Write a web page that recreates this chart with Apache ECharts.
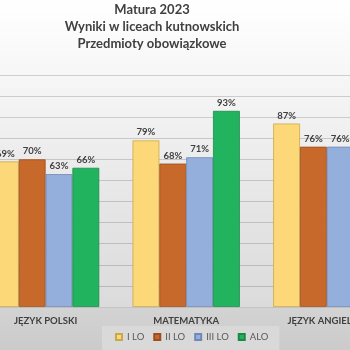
<!DOCTYPE html>
<html>
<head>
<meta charset="utf-8">
<script src="https://cdn.jsdelivr.net/npm/echarts@6/dist/echarts.min.js"></script>
<style>
  html, body { margin: 0; padding: 0; }
  #chart { width: 350px; height: 350px; }
</style>
</head>
<body>
<div id="chart"></div>
<script>
// Wyniki matury 2023 w liceach kutnowskich – przedmioty obowiązkowe (w %)
const categories = ['JĘZYK POLSKI', 'MATEMATYKA', 'JĘZYK ANGIELSKI'];
const schools = ['I LO', 'II LO', 'III LO', 'ALO'];
const wynikiILO = [69, 79, 87];
const wynikiIILO = [70, 68, 76];
const wynikiIIILO = [63, 71, 76];
const wynikiALO = [66, 93, null];
const yTicks = [0, 10, 20, 30, 40, 50, 60, 70, 80, 90, 100, 110];

const fills = ['#FDD878', '#C8692C', '#95AFDC', '#22B35F'];
const borders = ['#C9A947', '#9C4E1E', '#7088B5', '#1A8A49'];
const values = [wynikiILO, wynikiIILO, wynikiIIILO, wynikiALO];

const chart = echarts.init(document.getElementById('chart'), null, { renderer: 'canvas' });

const series = schools.map((name, i) => ({
  name: name,
  type: 'bar',
  data: values[i],
  barGap: '0%',
  barCategoryGap: '23.7%',
  itemStyle: { color: fills[i], borderColor: borders[i], borderWidth: 0.8 },
  label: {
    show: true,
    position: 'top',
    distance: 3,
    formatter: p => p.value + '%',
    fontFamily: 'Lato',
    fontWeight: 'bold',
    fontSize: 9.5,
    color: '#404040'
  }
}));

chart.setOption({
  animation: false,
  backgroundColor: {
    type: 'linear', x: 0, y: 0, x2: 0, y2: 1,
    colorStops: [
      { offset: 0, color: '#ffffff' },
      { offset: 0.3, color: '#f3f3f3' },
      { offset: 0.6, color: '#e5e5e5' },
      { offset: 0.876, color: '#dbdbdb' },
      { offset: 0.878, color: '#d3d3d3' },
      { offset: 1, color: '#cbcbcb' }
    ]
  },
  title: {
    text: 'Matura 2023\nWyniki w liceach kutnowskich\nPrzedmioty obowiązkowe',
    left: 152,
    top: 1,
    padding: 0,
    textAlign: 'center',
    textStyle: {
      fontFamily: 'Lato',
      fontWeight: 'bold',
      fontSize: 13,
      lineHeight: 17,
      color: '#404040'
    }
  },
  legend: {
    data: schools,
    left: 102,
    top: 326,
    itemWidth: 6,
    itemHeight: 6,
    itemGap: 9,
    padding: [6, 11, 8, 13],
    backgroundColor: '#d9d9d9',
    icon: 'rect',
    textStyle: { fontFamily: 'Lato', fontSize: 9.5, color: '#595959' }
  },
  grid: {
    left: -24.7,
    top: 75,
    bottom: 43,
    width: 421.8,
    containLabel: false,
    outerBoundsMode: 'none'
  },
  xAxis: {
    type: 'category',
    data: categories,
    axisTick: { show: false },
    axisLine: { show: true, lineStyle: { color: '#c4c4c4', width: 1 } },
    axisLabel: {
      margin: 9,
      fontFamily: 'Lato',
      fontWeight: 'bold',
      fontSize: 9.5,
      color: '#404040',
      hideOverlap: false
    }
  },
  yAxis: {
    type: 'value',
    min: yTicks[0],
    max: yTicks[yTicks.length - 1],
    interval: 10,
    axisLabel: { show: false },
    axisLine: { show: false },
    axisTick: { show: false },
    splitLine: { lineStyle: { color: 'rgba(0,0,0,0.16)', width: 1 } }
  },
  series: series
});
</script>
</body>
</html>
